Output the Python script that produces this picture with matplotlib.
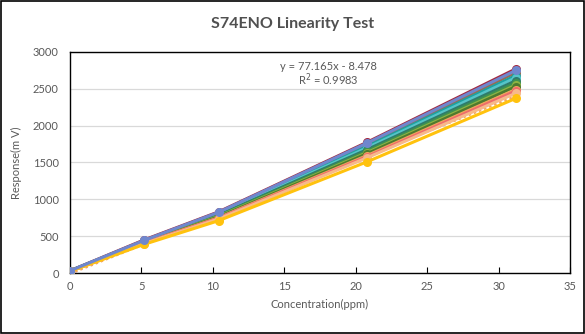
import numpy as np
import matplotlib
matplotlib.use("Agg")
import matplotlib.pyplot as plt

# concentration steps (ppm) and sensor responses (mV), one list per run
conc = [0, 5.2, 10.4, 20.8, 31.2]

runs = [
    [30, 450, 830, 1775, 2770],
    [30, 445, 825, 1765, 2750],
    [28, 440, 815, 1745, 2720],
    [28, 435, 805, 1720, 2680],
    [27, 430, 795, 1700, 2650],
    [26, 425, 785, 1675, 2610],
    [26, 420, 775, 1655, 2580],
    [25, 418, 768, 1635, 2550],
    [25, 415, 760, 1620, 2530],
    [24, 410, 750, 1595, 2490],
    [24, 405, 745, 1580, 2470],
    [23, 400, 735, 1565, 2440],
    [22, 390, 710, 1510, 2370],
]

run_colors = [
    "#A3283F", "#6F87CE", "#9C6B4E", "#1FA0A0", "#55C4C8", "#2E7B6C",
    "#3E9150", "#8DB443", "#4E7A2E", "#F2A35C", "#EE6B6B", "#F7B98A",
    "#FFC20E",
]

# linear fit shown on the chart
slope, intercept, r2 = 77.165, -8.478, 0.9983

TXT = "#595959"
FONT = "Lato"

fig = plt.figure(figsize=(5.85, 3.34), dpi=100)
ax = fig.add_axes([70 / 585, 61 / 334, 500 / 585, 221 / 334])

# draw order: last run on top, blue run markers kept visible too
for i, (vals, col) in enumerate(zip(runs, run_colors)):
    z = 3 + i
    if i == 1:
        z = 3 + len(runs)
    ax.plot(conc, vals, color=col, lw=2.2, marker="o", ms=6.5,
            markeredgewidth=0, zorder=z)

xfit = np.array([conc[0], conc[-1]])
ax.plot(xfit, slope * xfit + intercept, color="#F4A460", lw=1.8,
        ls=(0, (1, 1.2)), zorder=2.5)

ax.text(18.1, 2800, f"y = {slope}x - {abs(intercept)}",
        ha="center", va="center", fontsize=8, color=TXT, family=FONT)
ax.text(18.1, 2620, f"R$^2$ = {r2}", ha="center", va="center",
        fontsize=8, color=TXT, family=FONT)

ax.set_xlim(0, 35)
ax.set_ylim(0, 3000)
ax.set_xticks(range(0, 36, 5))
ax.set_yticks(range(0, 3001, 500))
ax.grid(axis="y", color="#D9D9D9", lw=0.9)
ax.set_axisbelow(True)
ax.tick_params(axis="x", direction="in", length=4, color="black",
               labelcolor=TXT, labelsize=8, pad=6)
ax.tick_params(axis="y", length=0, labelcolor=TXT, labelsize=8, pad=8)
for lab in ax.get_xticklabels() + ax.get_yticklabels():
    lab.set_family(FONT)
for sp in ax.spines.values():
    sp.set_color("black")
    sp.set_linewidth(1.0)

ax.set_xlabel("Concentration(ppm)", fontsize=8, color=TXT, family=FONT,
              labelpad=5)
ax.set_ylabel("Response(m V)", fontsize=8, color=TXT, family=FONT,
              labelpad=8)

fig.text(0.5, 310 / 334, "S74ENO Linearity Test", ha="center", va="center",
         fontsize=11.5, fontweight="bold", color="#505050", family=FONT)

# outer chart border
fig.patches.append(plt.Rectangle((0.001, 0.002), 0.997, 0.995,
                                 transform=fig.transFigure, fill=False,
                                 edgecolor="black", lw=1.2))

fig.savefig("out.png", dpi=100)
